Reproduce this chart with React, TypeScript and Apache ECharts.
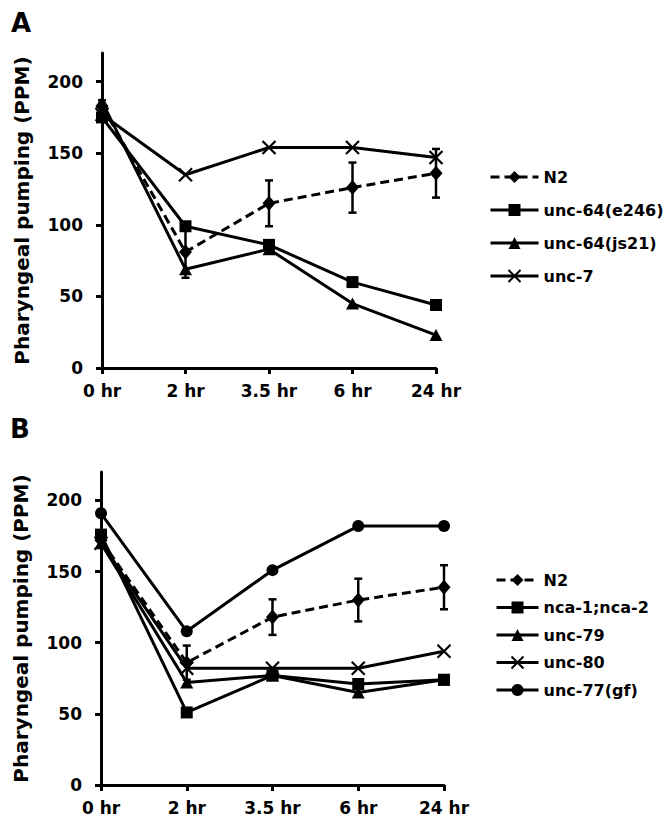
import React, { useEffect, useRef } from "react";
import * as echarts from "echarts";

const categories = ["0 hr", "2 hr", "3.5 hr", "6 hr", "24 hr"];
const yTicks = [0, 50, 100, 150, 200];

// Panel A
const n2A = [183, 81, 115, 126, 136];
const n2AErr = [4, 18, 16, 17.5, 17];
const e246A = [175, 99, 86, 60, 44];
const js21A = [186, 69, 83, 45, 23];
const unc7A = [177, 135, 154, 154, 147];

// Panel B
const n2B = [172, 86, 118, 130, 139];
const n2BErr = [4, 12, 12.5, 15, 15.5];
const ncaB = [176, 51, 77, 71, 74];
const unc79B = [170, 72, 77, 65, 74];
const unc80B = [170, 82, 82, 82, 94];
const unc77B = [191, 108, 151, 182, 182];

const FONT = "DejaVu Sans";
const XPATH = "path://M0,0L10,10M10,0L0,10";

function lineSeries(name: string, data: number[], idx: number, symbol: string, size: number | number[], dashed = false) {
  return {
    type: "line",
    name,
    data,
    xAxisIndex: idx,
    yAxisIndex: idx,
    symbol,
    symbolSize: size,
    showAllSymbol: true,
    lineStyle: { color: "#000", width: 3, type: dashed ? [9, 5] : "solid" },
    itemStyle: { color: "#000", borderColor: "#000", borderWidth: symbol === XPATH ? 2.2 : 0 },
    z: 3,
  };
}

function errSeries(vals: number[], errs: number[], idx: number) {
  return {
    type: "custom",
    name: "err" + idx,
    xAxisIndex: idx,
    yAxisIndex: idx,
    data: vals.map((v, i) => [i, v - errs[i], v + errs[i]]),
    encode: { x: 0, y: [1, 2] },
    z: 4,
    renderItem: (params: any, api: any) => {
      const x = api.value(0);
      const lo = api.coord([x, api.value(1)]);
      const hi = api.coord([x, api.value(2)]);
      const w = 4;
      const st = { stroke: "#000", lineWidth: 2.5 };
      return {
        type: "group",
        children: [
          { type: "line", shape: { x1: hi[0], y1: hi[1], x2: lo[0], y2: lo[1] }, style: st },
          { type: "line", shape: { x1: hi[0] - w, y1: hi[1], x2: hi[0] + w, y2: hi[1] }, style: st },
          { type: "line", shape: { x1: lo[0] - w, y1: lo[1], x2: lo[0] + w, y2: lo[1] }, style: st },
        ],
      };
    },
  };
}

function xAxis(idx: number) {
  return {
    type: "category",
    gridIndex: idx,
    data: categories,
    boundaryGap: false,
    axisLine: { lineStyle: { color: "#000", width: 3 } },
    axisTick: { show: true, length: 6, lineStyle: { color: "#000", width: 3 } },
    axisLabel: { color: "#000", fontFamily: FONT, fontWeight: "bold", fontSize: 17, margin: 14 },
    splitLine: { show: false },
  };
}

function yAxis(idx: number) {
  return {
    type: "value",
    gridIndex: idx,
    min: 0,
    max: 220,
    name: "Pharyngeal pumping (PPM)",
    nameLocation: "middle",
    nameGap: 70,
    nameTextStyle: { color: "#000", fontFamily: FONT, fontWeight: "bold", fontSize: 20 },
    axisLine: { show: true, lineStyle: { color: "#000", width: 3 } },
    axisTick: { show: true, length: 6, customValues: yTicks, lineStyle: { color: "#000", width: 3 } },
    axisLabel: { color: "#000", fontFamily: FONT, fontWeight: "bold", fontSize: 17, margin: 19, customValues: yTicks },
    splitLine: { show: false },
  };
}

export default function App() {
  const ref = useRef<HTMLDivElement>(null);
  useEffect(() => {
    document.body.style.margin = "0";
    const chart = echarts.init(ref.current!, null, { renderer: "svg" });
    const legendText = { color: "#000", fontFamily: FONT, fontWeight: "bold", fontSize: 16 };
    chart.setOption({
      animation: false,
      backgroundColor: "#fff",
      title: [
        { text: "A", left: 6, top: 5, textStyle: { color: "#000", fontFamily: FONT, fontWeight: "bold", fontSize: 26 } },
        { text: "B", left: 5, top: 411, textStyle: { color: "#000", fontFamily: FONT, fontWeight: "bold", fontSize: 26 } },
      ],
      grid: [
        { left: 102, top: 53, width: 334, height: 315 },
        { left: 101, top: 472, width: 343, height: 313 },
      ],
      xAxis: [xAxis(0), xAxis(1)],
      yAxis: [yAxis(0), yAxis(1)],
      legend: [
        {
          left: 489,
          top: 169,
          padding: 0,
          orient: "vertical",
          itemWidth: 48,
          itemHeight: 15,
          itemGap: 17,
          data: ["N2", "unc-64(e246)", "unc-64(js21)", "unc-7"],
          textStyle: legendText,
          lineStyle: { width: 3 },
          selectedMode: false,
        },
        {
          left: 495,
          top: 572,
          padding: 0,
          orient: "vertical",
          itemWidth: 42,
          itemHeight: 15,
          itemGap: 11.5,
          data: ["N2", "nca-1;nca-2", "unc-79", "unc-80", "unc-77(gf)"],
          textStyle: legendText,
          lineStyle: { width: 3 },
          selectedMode: false,
        },
      ],
      series: [
        lineSeries("N2", n2A, 0, "diamond", [13, 15], true),
        lineSeries("unc-64(e246)", e246A, 0, "rect", 12),
        lineSeries("unc-64(js21)", js21A, 0, "triangle", [13, 12]),
        lineSeries("unc-7", unc7A, 0, XPATH, 13),
        errSeries(n2A, n2AErr, 0),
        lineSeries("N2", n2B, 1, "diamond", [13, 15], true),
        lineSeries("nca-1;nca-2", ncaB, 1, "rect", 12),
        lineSeries("unc-79", unc79B, 1, "triangle", [13, 12]),
        lineSeries("unc-80", unc80B, 1, XPATH, 13),
        lineSeries("unc-77(gf)", unc77B, 1, "circle", 12),
        errSeries(n2B, n2BErr, 1),
      ],
    });
    return () => chart.dispose();
  }, []);
  return <div ref={ref} style={{ width: 667, height: 823 }} />;
}
